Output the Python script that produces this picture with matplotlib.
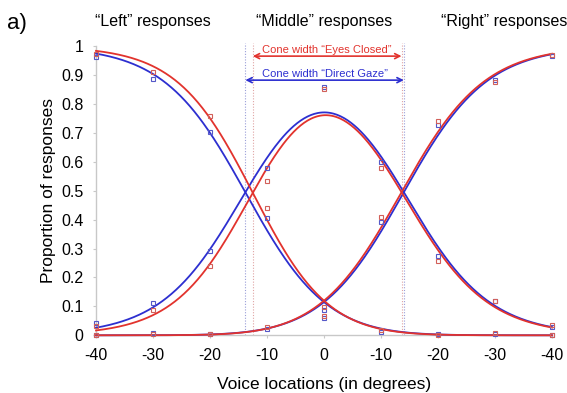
import numpy as np
import matplotlib
matplotlib.use("Agg")
import matplotlib.pyplot as plt

plt.rcParams['font.family'] = ['Liberation Sans', 'DejaVu Sans']

# ---- data -------------------------------------------------------------
positions = [-40, -30, -20, -10, 0, 10, 20, 30, 40]
tick_labels = ["-40", "-30", "-20", "-10", "0", "-10", "-20", "-30", "-40"]
yticks = [0, 0.1, 0.2, 0.3, 0.4, 0.5, 0.6, 0.7, 0.8, 0.9, 1]
ytick_labels = ["0", "0.1", "0.2", "0.3", "0.4", "0.5", "0.6", "0.7", "0.8", "0.9", "1"]

# observed proportions, Direct Gaze (blue)
gaze_left = [0.963, 0.885, 0.704, 0.404, 0.060, 0.012, 0.005, 0.003, 0.0]
gaze_middle = [0.041, 0.110, 0.291, 0.577, 0.860, 0.598, 0.274, 0.120, 0.030]
gaze_right = [0.0, 0.007, 0.005, 0.021, 0.087, 0.391, 0.727, 0.882, 0.965]
# observed proportions, Eyes Closed (red)
closed_left = [0.972, 0.911, 0.758, 0.441, 0.067, 0.018, 0.0, 0.009, 0.0]
closed_middle = [0.032, 0.087, 0.240, 0.534, 0.850, 0.579, 0.257, 0.118, 0.036]
closed_right = [0.0, 0.003, 0.003, 0.030, 0.097, 0.408, 0.742, 0.876, 0.969]

# fitted model parameters: crossing points (cone edges) and slopes
gaze_fit = dict(cL=-13.8, bL=0.138, cR=14.0, bR=0.136)
closed_fit = dict(cL=-12.5, bL=0.148, cR=13.6, bR=0.136)

panel_titles = ["\u201cLeft\u201d responses", "\u201cMiddle\u201d responses", "\u201cRight\u201d responses"]
title_x = [-30, 0, 20.6]
cone_labels = ["Cone width \u201cEyes Closed\u201d", "Cone width \u201cDirect Gaze\u201d"]

RED = "#e2332d"
BLUE = "#2d2fd0"
RED_M = "#d2605a"
BLUE_M = "#5558c8"


def fitted(x, cL, bL, cR, bR):
    u = np.exp(-bL * (x - cL))
    v = np.exp(bR * (x - cR))
    den = 1 + u + v
    return u / den, 1 / den, v / den


fig = plt.figure(figsize=(5.67, 3.93), dpi=100)
ax = fig.add_axes([96 / 567, 1 - 335.3 / 393, 456 / 567, 289.3 / 393])

xs = np.linspace(-40, 40, 400)

# dotted cone lines
for fit, col in [(gaze_fit, "#9a9ed8"), (closed_fit, "#e0a4a4")]:
    for c in (fit["cL"], fit["cR"]):
        ax.plot([c, c], [0, 1.01], ls=(0, (1, 1.5)), lw=0.8, color=col,
                clip_on=False, zorder=1)

for fit, col in [(gaze_fit, BLUE), (closed_fit, RED)]:
    L, M, R = fitted(xs, **fit)
    for curve in (L, M, R):
        ax.plot(xs, curve, color=col, lw=1.3, clip_on=False, zorder=3)

for series, col in [((gaze_left, gaze_middle, gaze_right), BLUE_M),
                    ((closed_left, closed_middle, closed_right), RED_M)]:
    for s in series:
        ax.plot(positions, s, ls="none", marker="s", ms=3.3, mfc="none",
                mec=col, mew=0.8, clip_on=False, zorder=4)

# cone-width arrows
arrow_y = [0.965, 0.882]
for fit, col, yy, lab in [(closed_fit, RED, arrow_y[0], cone_labels[0]),
                          (gaze_fit, BLUE, arrow_y[1], cone_labels[1])]:
    ax.annotate("", xy=(fit["cL"], yy), xytext=(fit["cR"], yy),
                arrowprops=dict(arrowstyle="<->", color=col, lw=1.2,
                                shrinkA=0, shrinkB=0, mutation_scale=9),
                annotation_clip=False)
    ax.text((fit["cL"] + fit["cR"]) / 2, yy + 0.012, lab, color=col,
            fontsize=8, ha="center", va="baseline")

for i, (t, xp) in enumerate(zip(panel_titles, title_x)):
    ax.text(xp, 1.085, t, fontsize=11.5, ha="left" if i == 2 else "center",
            va="center", clip_on=False)

fig.text(7 / 567, 1 - 23 / 393, "a)", fontsize=16, ha="left", va="center")

ax.set_xlim(-40, 40)
ax.set_ylim(0, 1)
ax.set_xticks(positions)
ax.set_xticklabels(tick_labels)
ax.set_yticks(yticks)
ax.set_yticklabels(ytick_labels)
ax.tick_params(labelsize=11.5, length=2, color="#c8c8c8", pad=7)
for side in ("top", "right"):
    ax.spines[side].set_visible(False)
for side in ("left", "bottom"):
    ax.spines[side].set_color("#c8c8c8")
    ax.spines[side].set_linewidth(1.0)

ax.set_xlabel("Voice locations (in degrees)", fontsize=12.5, labelpad=10)
ax.set_ylabel("Proportion of responses", fontsize=12.5, labelpad=4)

fig.savefig("out.png", dpi=100)
